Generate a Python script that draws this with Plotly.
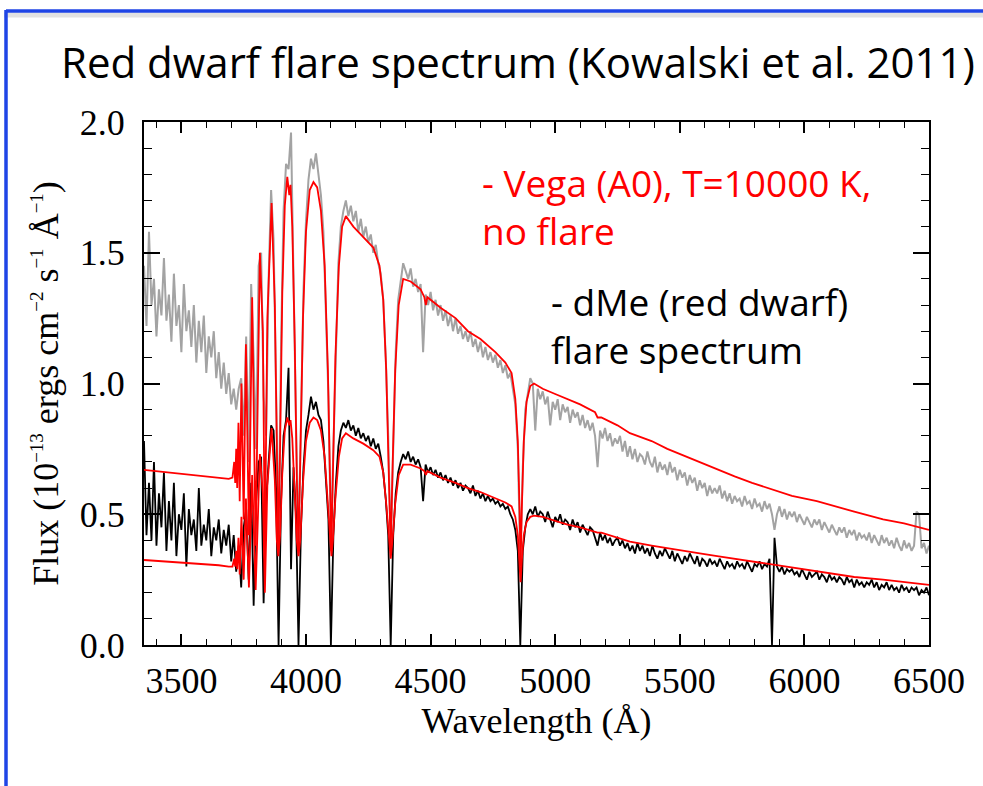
import plotly.graph_objects as go

# ---------------- data ----------------
WAVE_START = 3350   # Angstrom, first sample of the observed spectra
WAVE_STEP = 10      # Angstrom, sampling of the observed spectra

# grey: flare spectrum (scaled up), flux in 1e-13 erg/cm2/s/A
flare_scaled_flux = [
    1.45, 1.22, 1.58, 1.30, 1.40, 1.18, 1.36, 1.26, 1.48, 1.24,   # 3350
    1.34, 1.16, 1.42, 1.22, 1.30, 1.12, 1.38, 1.20, 1.28, 1.14,   # 3450
    1.30, 1.08, 1.24, 1.12, 1.26, 1.04, 1.18, 1.10, 1.20, 1.02,   # 3550
    1.12, 0.98, 1.08, 0.96, 1.04, 0.92, 0.98, 0.90, 0.98, 1.02,   # 3650
    0.80, 1.18, 0.70, 1.38, 1.10, 0.75, 1.45, 1.50, 0.95, 0.80,   # 3750
    1.40, 1.74, 1.55, 1.05, 0.40, 1.15, 1.66, 1.84, 1.82, 1.96,   # 3850
    1.35, 0.85, 0.38, 0.85, 1.36, 1.62, 1.78, 1.86, 1.82, 1.88,   # 3950
    1.80, 1.72, 1.58, 1.30, 0.95, 0.40, 0.75, 1.18, 1.46, 1.60,   # 4050
    1.66, 1.70, 1.64, 1.68, 1.62, 1.66, 1.58, 1.63, 1.56, 1.60,   # 4150
    1.54, 1.57, 1.50, 1.53, 1.46, 1.42, 1.32, 1.10, 0.80, 0.38,   # 4250
    0.80, 1.12, 1.32, 1.40, 1.46, 1.43, 1.40, 1.44, 1.37, 1.40,   # 4350
    1.35, 1.38, 1.12, 1.34, 1.30, 1.35, 1.28, 1.32, 1.26, 1.30,   # 4450
    1.24, 1.28, 1.22, 1.26, 1.20, 1.25, 1.19, 1.22, 1.17, 1.20,   # 4550
    1.16, 1.20, 1.14, 1.17, 1.12, 1.16, 1.10, 1.14, 1.09, 1.12,   # 4650
    1.08, 1.11, 1.06, 1.09, 1.04, 1.07, 1.02, 1.04, 0.98, 0.92,   # 4750
    0.75, 0.32, 0.68, 0.90, 0.96, 1.02, 1.00, 0.82, 0.98, 0.94,   # 4850
    0.97, 0.92, 0.95, 0.84, 0.93, 0.90, 0.94, 0.86, 0.92, 0.89,   # 4950
    0.91, 0.85, 0.90, 0.87, 0.89, 0.84, 0.88, 0.83, 0.86, 0.82,   # 5050
    0.85, 0.80, 0.68, 0.82, 0.79, 0.83, 0.78, 0.81, 0.76, 0.79,   # 5150
    0.77, 0.80, 0.74, 0.78, 0.72, 0.76, 0.71, 0.75, 0.70, 0.73,   # 5250
    0.72, 0.69, 0.74, 0.70, 0.68, 0.72, 0.66, 0.70, 0.67, 0.69,   # 5350
    0.65, 0.70, 0.66, 0.68, 0.63, 0.67, 0.64, 0.66, 0.61, 0.65,   # 5450
    0.62, 0.64, 0.59, 0.63, 0.60, 0.62, 0.57, 0.61, 0.58, 0.60,   # 5550
    0.58, 0.61, 0.56, 0.59, 0.55, 0.58, 0.54, 0.57, 0.55, 0.56,   # 5650
    0.53, 0.57, 0.54, 0.55, 0.52, 0.56, 0.53, 0.54, 0.51, 0.55,   # 5750
    0.52, 0.54, 0.50, 0.44, 0.50, 0.53, 0.49, 0.52, 0.48, 0.51,   # 5850
    0.49, 0.51, 0.47, 0.50, 0.48, 0.46, 0.49, 0.47, 0.45, 0.48,   # 5950
    0.46, 0.48, 0.44, 0.47, 0.45, 0.43, 0.46, 0.44, 0.42, 0.45,   # 6050
    0.43, 0.45, 0.41, 0.44, 0.42, 0.44, 0.40, 0.43, 0.41, 0.42,   # 6150
    0.40, 0.43, 0.39, 0.42, 0.40, 0.38, 0.42, 0.39, 0.41, 0.38,   # 6250
    0.40, 0.37, 0.41, 0.38, 0.36, 0.40, 0.37, 0.39, 0.36, 0.38,   # 6350
    0.51, 0.50, 0.37, 0.39, 0.35, 0.38,                           # 6450
]

# black: dMe flare spectrum
flare_flux = [
    0.78, 0.42, 0.62, 0.40, 0.70, 0.38, 0.58, 0.45, 0.66, 0.36,   # 3350
    0.55, 0.40, 0.62, 0.34, 0.50, 0.44, 0.58, 0.30, 0.52, 0.42,   # 3450
    0.48, 0.36, 0.60, 0.38, 0.46, 0.40, 0.52, 0.34, 0.45, 0.40,   # 3550
    0.48, 0.35, 0.44, 0.38, 0.46, 0.32, 0.42, 0.28, 0.38, 0.22,   # 3650
    0.45, 0.52, 0.25, 0.62, 0.15, 0.55, 0.70, 0.72, 0.16, 0.55,   # 3750
    0.70, 0.84, 0.82, 0.60, 0.00, 0.55, 0.80, 0.86, 1.06, 0.29,   # 3850
    0.68, 0.50, 0.00, 0.45, 0.68, 0.82, 0.88, 0.95, 0.90, 0.93,   # 3950
    0.88, 0.86, 0.78, 0.64, 0.48, 0.00, 0.42, 0.62, 0.76, 0.82,   # 4050
    0.85, 0.83, 0.86, 0.82, 0.84, 0.80, 0.83, 0.79, 0.81, 0.78,   # 4150
    0.80, 0.76, 0.79, 0.75, 0.77, 0.72, 0.66, 0.56, 0.42, 0.00,   # 4250
    0.42, 0.58, 0.66, 0.70, 0.73, 0.71, 0.74, 0.70, 0.72, 0.69,   # 4350
    0.71, 0.68, 0.55, 0.69, 0.66, 0.68, 0.65, 0.67, 0.64, 0.66,   # 4450
    0.63, 0.65, 0.62, 0.64, 0.61, 0.63, 0.60, 0.62, 0.59, 0.61,   # 4550
    0.60, 0.58, 0.61, 0.57, 0.59, 0.56, 0.58, 0.55, 0.57, 0.55,   # 4650
    0.56, 0.54, 0.55, 0.53, 0.54, 0.52, 0.53, 0.50, 0.48, 0.44,   # 4750
    0.36, 0.00, 0.36, 0.45, 0.50, 0.52, 0.50, 0.53, 0.49, 0.51,   # 4850
    0.50, 0.47, 0.51, 0.48, 0.45, 0.49, 0.47, 0.50, 0.46, 0.48,   # 4950
    0.47, 0.44, 0.48, 0.45, 0.47, 0.43, 0.46, 0.44, 0.42, 0.45,   # 5050
    0.44, 0.41, 0.38, 0.43, 0.40, 0.42, 0.39, 0.41, 0.38, 0.40,   # 5150
    0.41, 0.38, 0.40, 0.37, 0.39, 0.36, 0.38, 0.35, 0.39, 0.36,   # 5250
    0.38, 0.35, 0.37, 0.34, 0.38, 0.35, 0.33, 0.36, 0.34, 0.37,   # 5350
    0.35, 0.33, 0.36, 0.32, 0.35, 0.33, 0.31, 0.34, 0.32, 0.35,   # 5450
    0.33, 0.31, 0.34, 0.30, 0.33, 0.32, 0.30, 0.33, 0.31, 0.32,   # 5550
    0.30, 0.33, 0.31, 0.29, 0.32, 0.30, 0.31, 0.29, 0.32, 0.30,   # 5650
    0.31, 0.29, 0.32, 0.30, 0.28, 0.31, 0.30, 0.32, 0.29, 0.31,   # 5750
    0.30, 0.33, 0.00, 0.41, 0.30, 0.28, 0.30, 0.27, 0.29, 0.28,   # 5850
    0.29, 0.27, 0.28, 0.26, 0.29, 0.27, 0.25, 0.28, 0.26, 0.27,   # 5950
    0.28, 0.25, 0.27, 0.26, 0.24, 0.27, 0.25, 0.26, 0.24, 0.26,   # 6050
    0.25, 0.23, 0.26, 0.24, 0.25, 0.22, 0.25, 0.23, 0.24, 0.22,   # 6150
    0.24, 0.23, 0.25, 0.22, 0.24, 0.21, 0.23, 0.22, 0.24, 0.21,   # 6250
    0.23, 0.21, 0.22, 0.20, 0.23, 0.21, 0.22, 0.20, 0.22, 0.21,   # 6350
    0.22, 0.19, 0.21, 0.20, 0.22, 0.19,                           # 6450
]

# red: Vega (A0, T=10000 K) model, scaled to each spectrum
model_wave = [
    3350, 3400, 3450, 3500, 3550, 3600, 3650, 3690,
    3705, 3712, 3716, 3720, 3724, 3729, 3734, 3741, 3750, 3759,
    3771, 3784, 3798, 3815, 3827, 3835, 3845, 3862, 3875, 3883,
    3889, 3896, 3905, 3915, 3925, 3933, 3938, 3945, 3955, 3963,
    3970, 3977, 3988, 4000, 4015, 4030, 4045, 4060, 4075, 4088,
    4097, 4102, 4108, 4118, 4132, 4145, 4160, 4190, 4230, 4270,
    4295, 4310, 4322, 4332, 4340, 4348, 4358, 4372, 4390, 4420,
    4460, 4475, 4481, 4487, 4540, 4600, 4650, 4700, 4760, 4800,
    4825, 4840, 4850, 4857, 4861, 4866, 4874, 4885, 4900, 4915,
    4950, 5000, 5050, 5100, 5160, 5170, 5185, 5250, 5300, 5387,
    5450, 5500, 5580, 5650, 5720, 5790, 5883, 5950, 6050, 6120,
    6200, 6316, 6400, 6500,
]
model_upper_flux = [
    0.67, 0.665, 0.66, 0.655, 0.65, 0.645, 0.64, 0.635,
    0.64, 0.70, 0.62, 0.75, 0.60, 0.85, 0.55, 1.00, 0.48, 1.15,
    0.42, 1.33, 0.38, 1.50, 1.20, 0.36, 1.25, 1.69, 1.30, 0.70,
    0.36, 0.75, 1.35, 1.68, 1.79, 1.72, 1.76, 1.60, 1.15, 0.65,
    0.36, 0.70, 1.25, 1.58, 1.74, 1.77, 1.75, 1.66, 1.45, 1.05,
    0.60, 0.36, 0.65, 1.10, 1.45, 1.60, 1.64, 1.60, 1.56, 1.52,
    1.45, 1.32, 1.05, 0.70, 0.36, 0.70, 1.05, 1.30, 1.40, 1.39,
    1.36, 1.33, 1.30, 1.33, 1.29, 1.25, 1.20, 1.17, 1.12, 1.08,
    1.04, 0.94, 0.78, 0.52, 0.30, 0.52, 0.78, 0.93, 0.99, 1.00,
    0.98, 0.96, 0.94, 0.92, 0.89, 0.87, 0.87, 0.84, 0.81, 0.78,
    0.75, 0.73, 0.70, 0.67, 0.645, 0.62, 0.59, 0.57, 0.55, 0.53,
    0.51, 0.48, 0.465, 0.44,
]
model_lower_flux = [
    0.325, 0.322, 0.318, 0.315, 0.312, 0.308, 0.305, 0.30,
    0.30, 0.33, 0.30, 0.36, 0.29, 0.41, 0.27, 0.49, 0.25, 0.56,
    0.22, 0.65, 0.21, 0.73, 0.58, 0.20, 0.61, 0.83, 0.63, 0.40,
    0.34, 0.42, 0.66, 0.82, 0.87, 0.84, 0.86, 0.79, 0.58, 0.40,
    0.34, 0.40, 0.62, 0.78, 0.85, 0.87, 0.86, 0.82, 0.72, 0.53,
    0.40, 0.34, 0.40, 0.56, 0.72, 0.79, 0.81, 0.79, 0.77, 0.745,
    0.72, 0.66, 0.54, 0.41, 0.33, 0.41, 0.54, 0.65, 0.69, 0.69,
    0.675, 0.665, 0.65, 0.665, 0.64, 0.62, 0.60, 0.585, 0.56, 0.545,
    0.53, 0.49, 0.42, 0.32, 0.24, 0.32, 0.42, 0.47, 0.49, 0.495,
    0.49, 0.475, 0.46, 0.45, 0.435, 0.43, 0.43, 0.41, 0.395, 0.38,
    0.37, 0.36, 0.35, 0.34, 0.33, 0.32, 0.305, 0.295, 0.28, 0.27,
    0.26, 0.25, 0.24, 0.23,
]

title_text = "Red dwarf flare spectrum (Kowalski et al. 2011)"
vega_label = "- Vega (A0), T=10000 K,<br>no flare"
dme_label = "- dMe (red dwarf)<br>flare spectrum"
x_title = "Wavelength (Å)"
y_title = ("Flux (10<sup><span style='font-size:19px'>−13</span></sup> ergs cm"
           "<sup><span style='font-size:19px'>−2</span></sup> s"
           "<sup><span style='font-size:19px'>−1</span></sup> Å"
           "<sup><span style='font-size:19px'>−1</span></sup>)")

wave_grid = [WAVE_START + WAVE_STEP * i for i in range(len(flare_flux))]

# ---------------- figure ----------------
fig = go.Figure()
fig.add_trace(go.Scatter(x=wave_grid, y=flare_scaled_flux, mode="lines",
                         line=dict(color="#a3a3a3", width=2.0), hoverinfo="skip"))
fig.add_trace(go.Scatter(x=wave_grid, y=flare_flux, mode="lines",
                         line=dict(color="black", width=1.8), hoverinfo="skip"))
fig.add_trace(go.Scatter(x=model_wave, y=model_upper_flux, mode="lines",
                         line=dict(color="#ff0000", width=1.8), hoverinfo="skip"))
fig.add_trace(go.Scatter(x=model_wave, y=model_lower_flux, mode="lines",
                         line=dict(color="#ff0000", width=1.8), hoverinfo="skip"))

L, R, T, B = 144, 54, 122, 141
W, H = 983, 786
pw, ph = W - L - R, H - T - B


def px(xp):
    return (xp - L) / pw


def py(yp):
    return (H - B - yp) / ph


fig.update_layout(
    width=W, height=H,
    margin=dict(l=L, r=R, t=T, b=B, pad=0),
    paper_bgcolor="white", plot_bgcolor="white",
    showlegend=False,
    font=dict(family="Liberation Serif", size=36, color="black"),
)

axis_common = dict(
    ticks="inside", tickcolor="black", tickwidth=1.5,
    showline=True, linewidth=2, linecolor="black", mirror="allticks",
    showgrid=False, zeroline=False,
    tickfont=dict(family="Liberation Serif", size=36, color="black"),
)
fig.update_xaxes(range=[3350, 6500], tickmode="linear", tick0=3500, dtick=500,
                 ticklen=11, ticklabelstandoff=3,
                 minor=dict(dtick=100, tick0=3500, ticks="inside", ticklen=6,
                            tickwidth=1.3, tickcolor="black", showgrid=False),
                 title=dict(text=x_title, standoff=2,
                            font=dict(family="Liberation Serif", size=36)),
                 **axis_common)
fig.update_yaxes(range=[0, 2.0], tickmode="linear", tick0=0, dtick=0.5,
                 tickformat=".1f", ticklen=16, ticklabelstandoff=10,
                 minor=dict(dtick=0.1, tick0=0, ticks="inside", ticklen=8,
                            tickwidth=1.3, tickcolor="black", showgrid=False),
                 title=dict(text=y_title, standoff=10,
                            font=dict(family="Liberation Serif", size=36)),
                 **axis_common)

sans = "Open Sans"
fig.add_annotation(text=title_text, xref="paper", yref="paper",
                   x=px(59), y=py(62), xanchor="left", yanchor="middle",
                   showarrow=False, font=dict(family=sans, size=42, color="black"))
fig.add_annotation(text=vega_label, xref="paper", yref="paper",
                   x=px(480), y=py(206), xanchor="left", yanchor="middle", align="left",
                   showarrow=False, font=dict(family=sans, size=37, color="#ff0000"))
fig.add_annotation(text=dme_label, xref="paper", yref="paper",
                   x=px(549), y=py(325), xanchor="left", yanchor="middle", align="left",
                   showarrow=False, font=dict(family=sans, size=37, color="black"))

# slide frame (blue border with faint shadow)
fig.add_shape(type="line", xref="paper", yref="paper",
              x0=px(4), x1=px(990), y0=py(15), y1=py(15),
              line=dict(color="#e2e2e2", width=5), layer="below")
fig.add_shape(type="line", xref="paper", yref="paper",
              x0=px(6), x1=px(990), y0=py(11), y1=py(11),
              line=dict(color="#1f45e6", width=3.5))
fig.add_shape(type="line", xref="paper", yref="paper",
              x0=px(6), x1=px(6), y0=py(10), y1=py(800),
              line=dict(color="#1f45e6", width=3.5))

fig.write_html("out.html")
